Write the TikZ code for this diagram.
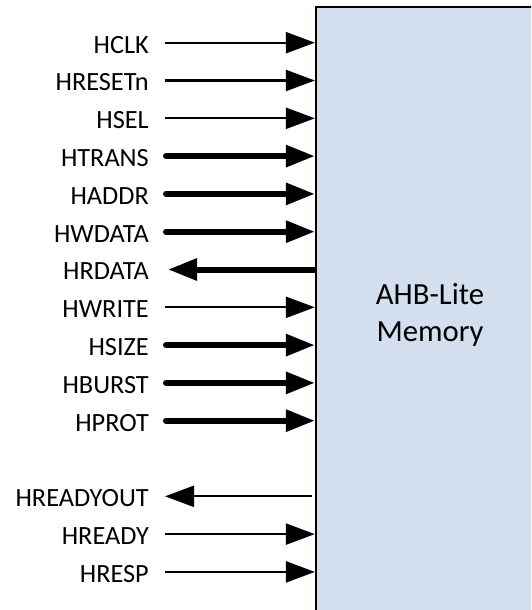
\documentclass[tikz,border=0pt]{standalone}
\usepackage{fontspec}
\setmainfont{Carlito}
\usepackage{tikz}
\usetikzlibrary{arrows.meta, positioning, calc}
\definecolor{MemFill}{HTML}{D3DFEE}

\begin{document}
\begin{tikzpicture}[
  x=1pt, y=-1pt,
  membox/.style={rectangle, draw=black, line width=2.3pt, fill=MemFill, minimum width=228pt, minimum height=616pt, align=center, font=\fontsize{30.7}{37}\selectfont},
  sig/.style={anchor=east, inner sep=0pt, text height=20.6pt, text depth=0pt, font=\fontsize{26.3}{31}\selectfont},
  >={Triangle[length=29pt,width=21pt]},
  wire/.style={->, line width=2.3pt},
  bus/.style={->, line width=6pt, line cap=round},
  wireout/.style={<-, line width=2.3pt},
  busout/.style={<-, line width=6pt}
]
\useasboundingbox (0,0) rectangle (531,610);
\clip (0,0) rectangle (531,610);

\node[membox] (mem) at (430,315) {AHB-Lite\\Memory};

\node[sig] (hclk) at (149,42.7) {HCLK};
\node[sig] (hresetn) at (149,80.5) {HRESETn};
\node[sig] (hsel) at (149,118.3) {HSEL};
\node[sig] (htrans) at (149,156.1) {HTRANS};
\node[sig] (haddr) at (149,193.9) {HADDR};
\node[sig] (hwdata) at (149,231.7) {HWDATA};
\node[sig] (hrdata) at (149,269.5) {HRDATA};
\node[sig] (hwrite) at (149,307.3) {HWRITE};
\node[sig] (hsize) at (149,345.1) {HSIZE};
\node[sig] (hburst) at (149,382.9) {HBURST};
\node[sig] (hprot) at (149,420.7) {HPROT};
\node[sig] (hreadyout) at (149,496.3) {HREADYOUT};
\node[sig] (hready) at (149,534.1) {HREADY};
\node[sig] (hresp) at (149,571.9) {HRESP};

\draw[wire] ([xshift=16pt]hclk.east) -- (hclk -| mem.west);
\draw[wire] ([xshift=16pt]hresetn.east) -- (hresetn -| mem.west);
\draw[wire] ([xshift=16pt]hsel.east) -- (hsel -| mem.west);
\draw[bus] ([xshift=17pt]htrans.east) -- (htrans -| mem.west);
\draw[bus] ([xshift=17pt]haddr.east) -- (haddr -| mem.west);
\draw[bus] ([xshift=17pt]hwdata.east) -- (hwdata -| mem.west);
\draw[busout] ([xshift=19pt]hrdata.east) -- (hrdata -| mem.west);
\draw[wire] ([xshift=16pt]hwrite.east) -- (hwrite -| mem.west);
\draw[bus] ([xshift=17pt]hsize.east) -- (hsize -| mem.west);
\draw[bus] ([xshift=17pt]hburst.east) -- (hburst -| mem.west);
\draw[bus] ([xshift=17pt]hprot.east) -- (hprot -| mem.west);
\draw[wireout] ([xshift=16pt]hreadyout.east) -- ([xshift=-3pt]hreadyout -| mem.west);
\draw[wire] ([xshift=16pt]hready.east) -- (hready -| mem.west);
\draw[wire] ([xshift=16pt]hresp.east) -- (hresp -| mem.west);
\end{tikzpicture}
\end{document}
